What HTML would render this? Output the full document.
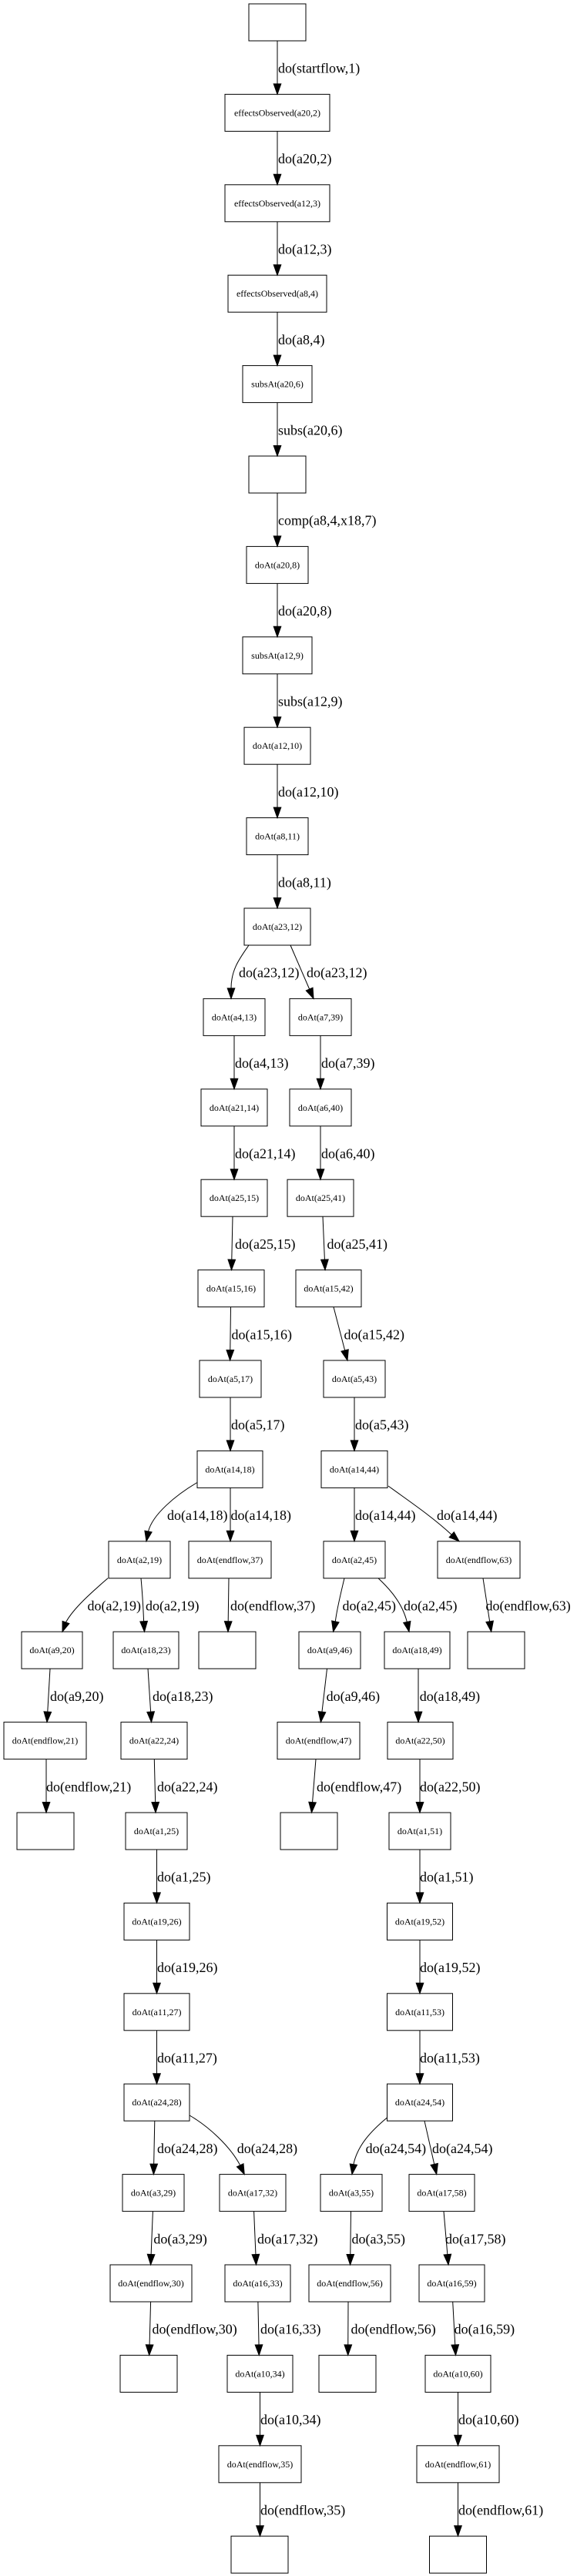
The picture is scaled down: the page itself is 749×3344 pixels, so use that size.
<!DOCTYPE html>
<html><head><meta charset="utf-8"><style>
html,body{margin:0;padding:0;background:#fff;}
svg{display:block;}
.n{font-family:"Liberation Serif","Times New Roman",serif;font-size:12px;text-anchor:middle;fill:#000;}
.e{font-family:"Liberation Serif","Times New Roman",serif;font-size:18px;fill:#000;}
rect{fill:#fff;stroke:#000;stroke-width:1;}
path{fill:none;stroke:#000;stroke-width:1;}
polygon{fill:#000;stroke:#000;stroke-width:1;}
</style></head><body>
<svg width="749" height="3344" viewBox="0 0 749 3344" xmlns="http://www.w3.org/2000/svg">
<rect x="0" y="0" width="749" height="3344" style="fill:#fff;stroke:none"/>

<!-- ===== Nodes ===== -->
<rect x="323" y="5" width="74" height="48"/>
<rect x="292" y="122.4" width="136" height="48"/><text class="n" x="360" y="150.4">effectsObserved(a20,2)</text>
<rect x="292" y="239.8" width="136" height="48"/><text class="n" x="360" y="267.8">effectsObserved(a12,3)</text>
<rect x="296" y="357.2" width="128" height="48"/><text class="n" x="360" y="385.2">effectsObserved(a8,4)</text>
<rect x="315" y="474.6" width="90" height="48"/><text class="n" x="360" y="502.6">subsAt(a20,6)</text>
<rect x="323" y="592" width="74" height="48"/>
<rect x="320" y="709.4" width="80" height="48"/><text class="n" x="360" y="737.4">doAt(a20,8)</text>
<rect x="315" y="826.8" width="90" height="48"/><text class="n" x="360" y="854.8">subsAt(a12,9)</text>
<rect x="317" y="944.2" width="86" height="48"/><text class="n" x="360" y="972.2">doAt(a12,10)</text>
<rect x="320" y="1061.6" width="80" height="48"/><text class="n" x="360" y="1089.6">doAt(a8,11)</text>
<rect x="317" y="1179" width="86" height="48"/><text class="n" x="360" y="1207">doAt(a23,12)</text>

<rect x="264" y="1296.4" width="80" height="48"/><text class="n" x="304" y="1324.4">doAt(a4,13)</text>
<rect x="376" y="1296.4" width="80" height="48"/><text class="n" x="416" y="1324.4">doAt(a7,39)</text>
<rect x="261" y="1413.8" width="86" height="48"/><text class="n" x="304" y="1441.8">doAt(a21,14)</text>
<rect x="376" y="1413.8" width="80" height="48"/><text class="n" x="416" y="1441.8">doAt(a6,40)</text>
<rect x="261" y="1531.2" width="86" height="48"/><text class="n" x="304" y="1559.2">doAt(a25,15)</text>
<rect x="373" y="1531.2" width="86" height="48"/><text class="n" x="416" y="1559.2">doAt(a25,41)</text>
<rect x="257" y="1648.6" width="86" height="48"/><text class="n" x="300" y="1676.6">doAt(a15,16)</text>
<rect x="384" y="1648.6" width="85" height="48"/><text class="n" x="426.5" y="1676.6">doAt(a15,42)</text>
<rect x="259" y="1766" width="80" height="48"/><text class="n" x="299" y="1794">doAt(a5,17)</text>
<rect x="420" y="1766" width="80" height="48"/><text class="n" x="460" y="1794">doAt(a5,43)</text>
<rect x="256" y="1883.4" width="85" height="48"/><text class="n" x="298.5" y="1911.4">doAt(a14,18)</text>
<rect x="417" y="1883.4" width="86" height="48"/><text class="n" x="460" y="1911.4">doAt(a14,44)</text>

<rect x="141" y="2000.8" width="80" height="48"/><text class="n" x="181" y="2028.8">doAt(a2,19)</text>
<rect x="245" y="2000.8" width="107" height="48"/><text class="n" x="298.5" y="2028.8">doAt(endflow,37)</text>
<rect x="420" y="2000.8" width="80" height="48"/><text class="n" x="460" y="2028.8">doAt(a2,45)</text>
<rect x="568" y="2000.8" width="107" height="48"/><text class="n" x="621.5" y="2028.8">doAt(endflow,63)</text>

<rect x="28" y="2118.2" width="79" height="48"/><text class="n" x="67.5" y="2146.2">doAt(a9,20)</text>
<rect x="147" y="2118.2" width="85" height="48"/><text class="n" x="189.5" y="2146.2">doAt(a18,23)</text>
<rect x="258" y="2118.2" width="74" height="48"/>
<rect x="388" y="2118.2" width="80" height="48"/><text class="n" x="428" y="2146.2">doAt(a9,46)</text>
<rect x="499" y="2118.2" width="85" height="48"/><text class="n" x="541.5" y="2146.2">doAt(a18,49)</text>
<rect x="607" y="2118.2" width="74" height="48"/>

<rect x="5" y="2235.6" width="107" height="48"/><text class="n" x="58.5" y="2263.6">doAt(endflow,21)</text>
<rect x="157" y="2235.6" width="86" height="48"/><text class="n" x="200" y="2263.6">doAt(a22,24)</text>
<rect x="360" y="2235.6" width="107" height="48"/><text class="n" x="413.5" y="2263.6">doAt(endflow,47)</text>
<rect x="503" y="2235.6" width="85" height="48"/><text class="n" x="545.5" y="2263.6">doAt(a22,50)</text>

<rect x="22" y="2353" width="74" height="48"/>
<rect x="163" y="2353" width="80" height="48"/><text class="n" x="203" y="2381">doAt(a1,25)</text>
<rect x="364" y="2353" width="74" height="48"/>
<rect x="505" y="2353" width="80" height="48"/><text class="n" x="545" y="2381">doAt(a1,51)</text>

<rect x="161" y="2470.4" width="85" height="48"/><text class="n" x="203.5" y="2498.4">doAt(a19,26)</text>
<rect x="502.5" y="2470.4" width="85" height="48"/><text class="n" x="545" y="2498.4">doAt(a19,52)</text>
<rect x="161" y="2587.8" width="85" height="48"/><text class="n" x="203.5" y="2615.8">doAt(a11,27)</text>
<rect x="502.5" y="2587.8" width="85" height="48"/><text class="n" x="545" y="2615.8">doAt(a11,53)</text>
<rect x="161" y="2705.2" width="85" height="48"/><text class="n" x="203.5" y="2733.2">doAt(a24,28)</text>
<rect x="502.5" y="2705.2" width="85" height="48"/><text class="n" x="545" y="2733.2">doAt(a24,54)</text>

<rect x="159" y="2822.6" width="80" height="48"/><text class="n" x="199" y="2850.6">doAt(a3,29)</text>
<rect x="285" y="2822.6" width="86" height="48"/><text class="n" x="328" y="2850.6">doAt(a17,32)</text>
<rect x="416" y="2822.6" width="80" height="48"/><text class="n" x="456" y="2850.6">doAt(a3,55)</text>
<rect x="531" y="2822.6" width="85" height="48"/><text class="n" x="573.5" y="2850.6">doAt(a17,58)</text>

<rect x="143" y="2940" width="106" height="48"/><text class="n" x="196" y="2968">doAt(endflow,30)</text>
<rect x="292" y="2940" width="85" height="48"/><text class="n" x="334.5" y="2968">doAt(a16,33)</text>
<rect x="401" y="2940" width="106" height="48"/><text class="n" x="454" y="2968">doAt(endflow,56)</text>
<rect x="544" y="2940" width="85" height="48"/><text class="n" x="586.5" y="2968">doAt(a16,59)</text>

<rect x="156" y="3057.4" width="74" height="48"/>
<rect x="295" y="3057.4" width="85" height="48"/><text class="n" x="337.5" y="3085.4">doAt(a10,34)</text>
<rect x="414" y="3057.4" width="74" height="48"/>
<rect x="552" y="3057.4" width="85" height="48"/><text class="n" x="594.5" y="3085.4">doAt(a10,60)</text>

<rect x="284" y="3174.8" width="107" height="48"/><text class="n" x="337.5" y="3202.8">doAt(endflow,35)</text>
<rect x="541" y="3174.8" width="107" height="48"/><text class="n" x="594.5" y="3202.8">doAt(endflow,61)</text>

<rect x="300" y="3292.2" width="74" height="48"/>
<rect x="557.5" y="3292.2" width="74" height="48"/>

<!-- ===== Edges: main chain ===== -->
<path d="M360,53 V108.9"/><polygon points="355.2,108.9 364.8,108.9 360,122.4"/>
<path d="M360,170.4 V226.3"/><polygon points="355.2,226.3 364.8,226.3 360,239.8"/>
<path d="M360,287.8 V343.7"/><polygon points="355.2,343.7 364.8,343.7 360,357.2"/>
<path d="M360,405.2 V461.1"/><polygon points="355.2,461.1 364.8,461.1 360,474.6"/>
<path d="M360,522.6 V578.5"/><polygon points="355.2,578.5 364.8,578.5 360,592"/>
<path d="M360,640 V695.9"/><polygon points="355.2,695.9 364.8,695.9 360,709.4"/>
<path d="M360,757.4 V813.3"/><polygon points="355.2,813.3 364.8,813.3 360,826.8"/>
<path d="M360,874.8 V930.7"/><polygon points="355.2,930.7 364.8,930.7 360,944.2"/>
<path d="M360,992.2 V1048.1"/><polygon points="355.2,1048.1 364.8,1048.1 360,1061.6"/>
<path d="M360,1109.6 V1165.5"/><polygon points="355.2,1165.5 364.8,1165.5 360,1179"/>

<text class="e" x="361" y="94.7">do(startflow,1)</text>
<text class="e" x="361" y="212.1">do(a20,2)</text>
<text class="e" x="361" y="329.5">do(a12,3)</text>
<text class="e" x="361" y="446.9">do(a8,4)</text>
<text class="e" x="361" y="564.3">subs(a20,6)</text>
<text class="e" x="361" y="681.7">comp(a8,4,x18,7)</text>
<text class="e" x="361" y="799.1">do(a20,8)</text>
<text class="e" x="361" y="916.5">subs(a12,9)</text>
<text class="e" x="361" y="1033.9">do(a12,10)</text>
<text class="e" x="361" y="1151.3">do(a8,11)</text>

<!-- rank 10 -> 11 -->
<path d="M323,1227 C312,1243 300,1258 300,1282.9"/><polygon points="295.2,1282.9 304.8,1282.9 300,1296.4"/>
<path d="M377,1227 L401.64,1284.01"/><polygon points="397.23,1285.92 406.05,1282.1 407,1296.4"/>
<text class="e" x="310" y="1268.7">do(a23,12)</text>
<text class="e" x="398" y="1268.7">do(a23,12)</text>

<!-- rank 11 -> 12 -->
<path d="M304,1344.4 V1400.3"/><polygon points="299.2,1400.3 308.8,1400.3 304,1413.8"/>
<path d="M416,1344.4 V1400.3"/><polygon points="411.2,1400.3 420.8,1400.3 416,1413.8"/>
<text class="e" x="305" y="1386.1">do(a4,13)</text>
<text class="e" x="417" y="1386.1">do(a7,39)</text>

<!-- rank 12 -> 13 -->
<path d="M304,1461.8 V1517.7"/><polygon points="299.2,1517.7 308.8,1517.7 304,1531.2"/>
<path d="M416,1461.8 V1517.7"/><polygon points="411.2,1517.7 420.8,1517.7 416,1531.2"/>
<text class="e" x="305" y="1503.5">do(a21,14)</text>
<text class="e" x="417" y="1503.5">do(a6,40)</text>

<!-- rank 13 -> 14 -->
<path d="M302,1579.2 L300.79,1635.1"/><polygon points="296,1635 305.6,1635.2 300.5,1648.6"/>
<path d="M419,1579.2 L421.42,1635.11"/><polygon points="416.6,1635.3 426.2,1634.9 422,1648.6"/>
<text class="e" x="305" y="1620.9">do(a25,15)</text>
<text class="e" x="424.5" y="1620.9">do(a25,41)</text>

<!-- rank 14 -> 15 -->
<path d="M299.5,1696.6 L298.78,1752.5"/><polygon points="294,1752.5 303.6,1752.5 298.6,1766"/>
<path d="M433,1696.6 L447.61,1752.93"/><polygon points="442.96,1754.13 452.26,1751.73 451,1766"/>
<text class="e" x="300.5" y="1738.3">do(a15,16)</text>
<text class="e" x="446.5" y="1738.3">do(a15,42)</text>

<!-- rank 15 -> 16 -->
<path d="M299,1814 V1869.9"/><polygon points="294.2,1869.9 303.8,1869.9 299,1883.4"/>
<path d="M460,1814 V1869.9"/><polygon points="455.2,1869.9 464.8,1869.9 460,1883.4"/>
<text class="e" x="300" y="1855.7">do(a5,17)</text>
<text class="e" x="461" y="1855.7">do(a5,43)</text>

<!-- rank 16 -> 17 -->
<path d="M256,1924.5 C228,1941 198,1966 192.5,1988"/><polygon points="197.1,1988.9 187.9,1987.1 190,2000.8"/>
<path d="M299,1931.4 V1987.3"/><polygon points="294.2,1987.3 303.8,1987.3 299,2000.8"/>
<path d="M460,1931.4 V1987.3"/><polygon points="455.2,1987.3 464.8,1987.3 460,2000.8"/>
<path d="M504,1929 C530,1948 560,1968 586.2,1992.2"/><polygon points="583.1,1995.7 589.3,1988.7 596,2000.8"/>
<text class="e" x="217" y="1973.1">do(a14,18)</text>
<text class="e" x="299.5" y="1973.1">do(a14,18)</text>
<text class="e" x="461" y="1973.1">do(a14,44)</text>
<text class="e" x="567" y="1973.1">do(a14,44)</text>

<!-- rank 17 -> 18 -->
<path d="M140,2048.8 C120,2066 95,2088 85.5,2106"/><polygon points="89.9,2107.6 81.1,2104.4 81,2118.2"/>
<path d="M183,2048.8 C185,2070 186,2090 186.63,2104.73"/><polygon points="181.84,2105.04 191.42,2104.42 187.5,2118.2"/>
<path d="M297,2048.8 L296.19,2104.7"/><polygon points="291.4,2104.6 301,2104.8 296,2118.2"/>
<path d="M447,2048.8 C442,2070 437,2090 435.34,2104.98"/><polygon points="430.64,2104.01 440.04,2105.95 432.6,2118.2"/>
<path d="M491,2048.8 C505,2062 522,2080 528.3,2105.5"/><polygon points="523.7,2106.5 532.9,2104.5 531,2118.2"/>
<path d="M627,2048.8 L635.65,2104.86"/><polygon points="630.91,2105.59 640.39,2104.13 637.7,2118.2"/>
<text class="e" x="113.5" y="2090.5">do(a2,19)</text>
<text class="e" x="189" y="2090.5">do(a2,19)</text>
<text class="e" x="299" y="2090.5">do(endflow,37)</text>
<text class="e" x="444.5" y="2090.5">do(a2,45)</text>
<text class="e" x="524" y="2090.5">do(a2,45)</text>
<text class="e" x="630.5" y="2090.5">do(endflow,63)</text>

<!-- rank 18 -> 19 -->
<path d="M65,2166.2 L61.78,2222.13"/><polygon points="56.99,2221.85 66.57,2222.41 61,2235.6"/>
<path d="M192,2166.2 L195.63,2222.13"/><polygon points="190.84,2222.44 200.42,2221.82 196.5,2235.6"/>
<path d="M424.5,2166.2 L417.97,2222.19"/><polygon points="413.2,2221.63 422.74,2222.75 416.4,2235.6"/>
<path d="M543,2166.2 V2222.1"/><polygon points="538.2,2222.1 547.8,2222.1 543,2235.6"/>
<text class="e" x="65" y="2207.9">do(a9,20)</text>
<text class="e" x="198" y="2207.9">do(a18,23)</text>
<text class="e" x="423.6" y="2207.9">do(a9,46)</text>
<text class="e" x="544.7" y="2207.9">do(a18,49)</text>

<!-- rank 19 -> 20 -->
<path d="M60,2283.6 V2339.5"/><polygon points="55.2,2339.5 64.8,2339.5 60,2353"/>
<path d="M200.3,2283.6 L201.67,2339.5"/><polygon points="196.9,2339.6 206.5,2339.4 202,2353"/>
<path d="M410,2283.6 L405.57,2339.54"/><polygon points="400.8,2339.2 410.3,2339.9 404.5,2353"/>
<path d="M545,2283.6 V2339.5"/><polygon points="540.2,2339.5 549.8,2339.5 545,2353"/>
<text class="e" x="60" y="2325.3">do(endflow,21)</text>
<text class="e" x="204" y="2325.3">do(a22,24)</text>
<text class="e" x="411" y="2325.3">do(endflow,47)</text>
<text class="e" x="545" y="2325.3">do(a22,50)</text>

<!-- rank 20 -> 21 -->
<path d="M203.5,2401 V2456.9"/><polygon points="198.7,2456.9 208.3,2456.9 203.5,2470.4"/>
<path d="M545,2401 V2456.9"/><polygon points="540.2,2456.9 549.8,2456.9 545,2470.4"/>
<text class="e" x="204" y="2442.7">do(a1,25)</text>
<text class="e" x="545" y="2442.7">do(a1,51)</text>

<!-- rank 21 -> 22 -->
<path d="M203.5,2518.4 V2574.3"/><polygon points="198.7,2574.3 208.3,2574.3 203.5,2587.8"/>
<path d="M545,2518.4 V2574.3"/><polygon points="540.2,2574.3 549.8,2574.3 545,2587.8"/>
<text class="e" x="204" y="2560.1">do(a19,26)</text>
<text class="e" x="545" y="2560.1">do(a19,52)</text>

<!-- rank 22 -> 23 -->
<path d="M203.5,2635.8 V2691.7"/><polygon points="198.7,2691.7 208.3,2691.7 203.5,2705.2"/>
<path d="M545,2635.8 V2691.7"/><polygon points="540.2,2691.7 549.8,2691.7 545,2705.2"/>
<text class="e" x="204" y="2677.5">do(a11,27)</text>
<text class="e" x="545" y="2677.5">do(a11,53)</text>

<!-- rank 23 -> 24 -->
<path d="M200.8,2753.2 L199.67,2809.1"/><polygon points="194.9,2809.1 204.5,2809.1 199.4,2822.6"/>
<path d="M246,2746 C270,2760 298,2785 311.7,2810.8"/><polygon points="307.4,2812.8 316,2808.8 317.2,2822.6"/>
<path d="M502.5,2749 C482,2766 464,2785 458.9,2809.7"/><polygon points="463.5,2810.4 454.2,2809 457,2822.6"/>
<path d="M551,2753.2 L563.72,2809.43"/><polygon points="559.04,2810.49 568.4,2808.37 566.7,2822.6"/>
<text class="e" x="204" y="2794.9">do(a24,28)</text>
<text class="e" x="307.7" y="2794.9">do(a24,28)</text>
<text class="e" x="474.6" y="2794.9">do(a24,54)</text>
<text class="e" x="561" y="2794.9">do(a24,54)</text>

<!-- rank 24 -> 25 -->
<path d="M198.4,2870.6 L196.14,2926.5"/><polygon points="191.3,2926.3 200.9,2926.7 195.6,2940"/>
<path d="M329.6,2870.6 L331.94,2926.5"/><polygon points="327.1,2926.7 336.7,2926.3 332.5,2940"/>
<path d="M455.5,2870.6 L454.78,2926.5"/><polygon points="450,2926.5 459.6,2926.5 454.6,2940"/>
<path d="M576,2870.6 L580.84,2926.55"/><polygon points="576.06,2926.96 585.62,2926.14 582,2940"/>
<text class="e" x="199.4" y="2912.3">do(a3,29)</text>
<text class="e" x="334" y="2912.3">do(a17,32)</text>
<text class="e" x="456.5" y="2912.3">do(a3,55)</text>
<text class="e" x="578" y="2912.3">do(a17,58)</text>

<!-- rank 25 -> 26 -->
<path d="M195.6,2988 L194.07,3043.9"/><polygon points="189.3,3043.8 198.9,3044 193.7,3057.4"/>
<path d="M334.9,2988 L336.03,3043.9"/><polygon points="331.2,3044 340.8,3043.8 336.3,3057.4"/>
<path d="M452,2988 L451.76,3043.9"/><polygon points="447,3043.9 456.6,3043.9 451.7,3057.4"/>
<path d="M587.7,2988 L590.76,3043.92"/><polygon points="585.97,3044.18 595.55,3043.66 591.5,3057.4"/>
<text class="e" x="197.5" y="3029.7">do(endflow,30)</text>
<text class="e" x="338" y="3029.7">do(a16,33)</text>
<text class="e" x="455.5" y="3029.7">do(endflow,56)</text>
<text class="e" x="589.6" y="3029.7">do(a16,59)</text>

<!-- rank 26 -> 27 -->
<path d="M337.5,3105.4 V3161.3"/><polygon points="332.7,3161.3 342.3,3161.3 337.5,3174.8"/>
<path d="M594.5,3105.4 V3161.3"/><polygon points="589.7,3161.3 599.3,3161.3 594.5,3174.8"/>
<text class="e" x="338" y="3147.1">do(a10,34)</text>
<text class="e" x="595" y="3147.1">do(a10,60)</text>

<!-- rank 27 -> 28 -->
<path d="M337.5,3222.8 V3278.7"/><polygon points="332.7,3278.7 342.3,3278.7 337.5,3292.2"/>
<path d="M594.5,3222.8 V3278.7"/><polygon points="589.7,3278.7 599.3,3278.7 594.5,3292.2"/>
<text class="e" x="338" y="3264.5">do(endflow,35)</text>
<text class="e" x="595" y="3264.5">do(endflow,61)</text>
</svg>
</body></html>
